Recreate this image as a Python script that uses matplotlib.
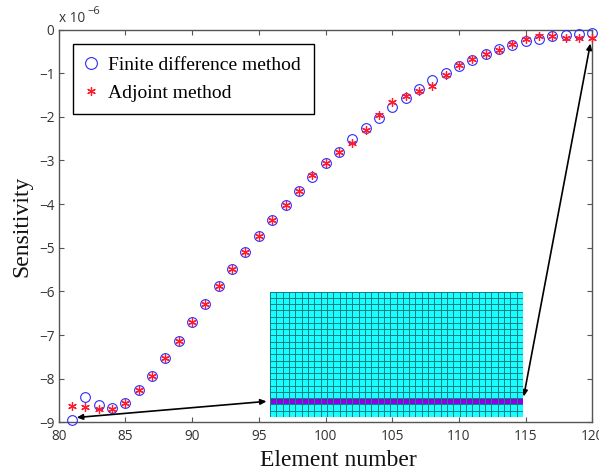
import matplotlib

matplotlib.use("Agg")
import matplotlib.pyplot as plt
import numpy as np
from matplotlib.colors import ListedColormap

ELEMENTS = list(range(81, 121))
FINITE_DIFF = [
    -8.95, -8.43, -8.61, -8.67, -8.55, -8.27, -7.93, -7.53, -7.13, -6.71,
    -6.28, -5.88, -5.48, -5.10, -4.72, -4.37, -4.03, -3.69, -3.39, -3.07,
    -2.81, -2.52, -2.26, -2.02, -1.78, -1.57, -1.36, -1.16, -1.00, -0.84,
    -0.71, -0.57, -0.45, -0.35, -0.27, -0.21, -0.16, -0.13, -0.10, -0.08,
]
ADJOINT = [
    -8.62, -8.66, -8.69, -8.69, -8.55, -8.27, -7.93, -7.53, -7.13, -6.71,
    -6.28, -5.88, -5.48, -5.10, -4.72, -4.37, -4.03, -3.69, -3.33, -3.06,
    -2.81, -2.61, -2.31, -1.97, -1.67, -1.52, -1.42, -1.29, -1.05, -0.82,
    -0.68, -0.56, -0.46, -0.33, -0.22, -0.15, -0.15, -0.20, -0.19, -0.19,
]
XTICKS = list(range(80, 121, 5))
YTICKS = list(range(-9, 1))

# finite element mesh drawn in the inset
MESH_COLS = 40
MESH_ROWS = 20
HIGHLIGHT_ROW = 2

# double headed arrows from the highlighted row to the curve ends
ARROW_LEFT = [(81.35, -8.89), (95.58, -8.52)]
ARROW_RIGHT = [(114.85, -8.41), (119.85, -0.32)]

W, H = 599, 474
SERIF = "Liberation Serif"
SANS = "Open Sans"
AXIS_GRAY = "#555555"
TEXT_GRAY = "#333333"

plt.rcParams["font.family"] = SANS

fig = plt.figure(figsize=(W / 100, H / 100), dpi=100)
ax = fig.add_axes([58.7 / W, 1 - 422.3 / H, (592.4 - 58.7) / W, (422.3 - 29.5) / H])

ax.plot(ELEMENTS, FINITE_DIFF, "o", mfc="none", mec="#2a2aff", ms=7.0, mew=0.8,
        ls="none", label="Finite difference method", clip_on=False, zorder=3)
ax.plot(ELEMENTS, ADJOINT, ls="none", marker=(6, 2, 0), mec="#ff1a2e", ms=6.2, mew=0.9,
        label="Adjoint method", clip_on=False, zorder=4)

ax.set_xlim(80, 120)
ax.set_ylim(-9, 0)
ax.set_xticks(XTICKS)
ax.set_yticks(YTICKS)
ax.tick_params(direction="in", top=True, right=True, length=3.8, width=0.8,
               color=AXIS_GRAY, labelcolor=TEXT_GRAY, labelsize=9.8, pad=3)
ax.tick_params(axis="x", pad=5)
for spine in ax.spines.values():
    spine.set_color(AXIS_GRAY)
    spine.set_linewidth(1.0)

ax.set_xlabel("Element number", family=SERIF, fontsize=17, color="#111111", va="center")
ax.xaxis.set_label_coords(0.524, -0.0985)
ax.set_ylabel("Sensitivity", family=SERIF, fontsize=17, labelpad=5, color="#111111")
ax.text(0.001, 1.027, "x 10", transform=ax.transAxes, fontsize=9.8,
        color=TEXT_GRAY, va="center", ha="left")
ax.text(0.053, 1.047, "\u22126", transform=ax.transAxes, fontsize=8,
        color=TEXT_GRAY, va="center", ha="left")

leg = ax.legend(loc="upper left", bbox_to_anchor=(14.5 / 533.7, 1 - 14.5 / 392.8),
                borderaxespad=0, fancybox=False, framealpha=1, edgecolor="k",
                prop={"family": SERIF, "size": 14}, handletextpad=0.6,
                labelspacing=0.5, borderpad=0.65, handlelength=0.56)
leg.get_frame().set_linewidth(1.0)
leg.legend_handles[0].set_markersize(8.5)

inset = fig.add_axes([270 / W, 1 - 417 / H, 253 / W, 125.5 / H], zorder=5)
cells = np.zeros((MESH_ROWS, MESH_COLS))
cells[HIGHLIGHT_ROW, :] = 1
inset.pcolormesh(cells, cmap=ListedColormap(["#19ffff", "#8f00e6"]), vmin=0, vmax=1,
                 edgecolors="#128084", linewidth=0.5)
inset.axis("off")

for start, end in (ARROW_LEFT, ARROW_RIGHT):
    ax.annotate("", xy=start, xytext=end, zorder=6,
                arrowprops=dict(arrowstyle="<|-|>,head_length=0.35,head_width=0.16",
                                color="k", lw=1.2, shrinkA=0, shrinkB=0))

fig.savefig("out.png", dpi=100)
